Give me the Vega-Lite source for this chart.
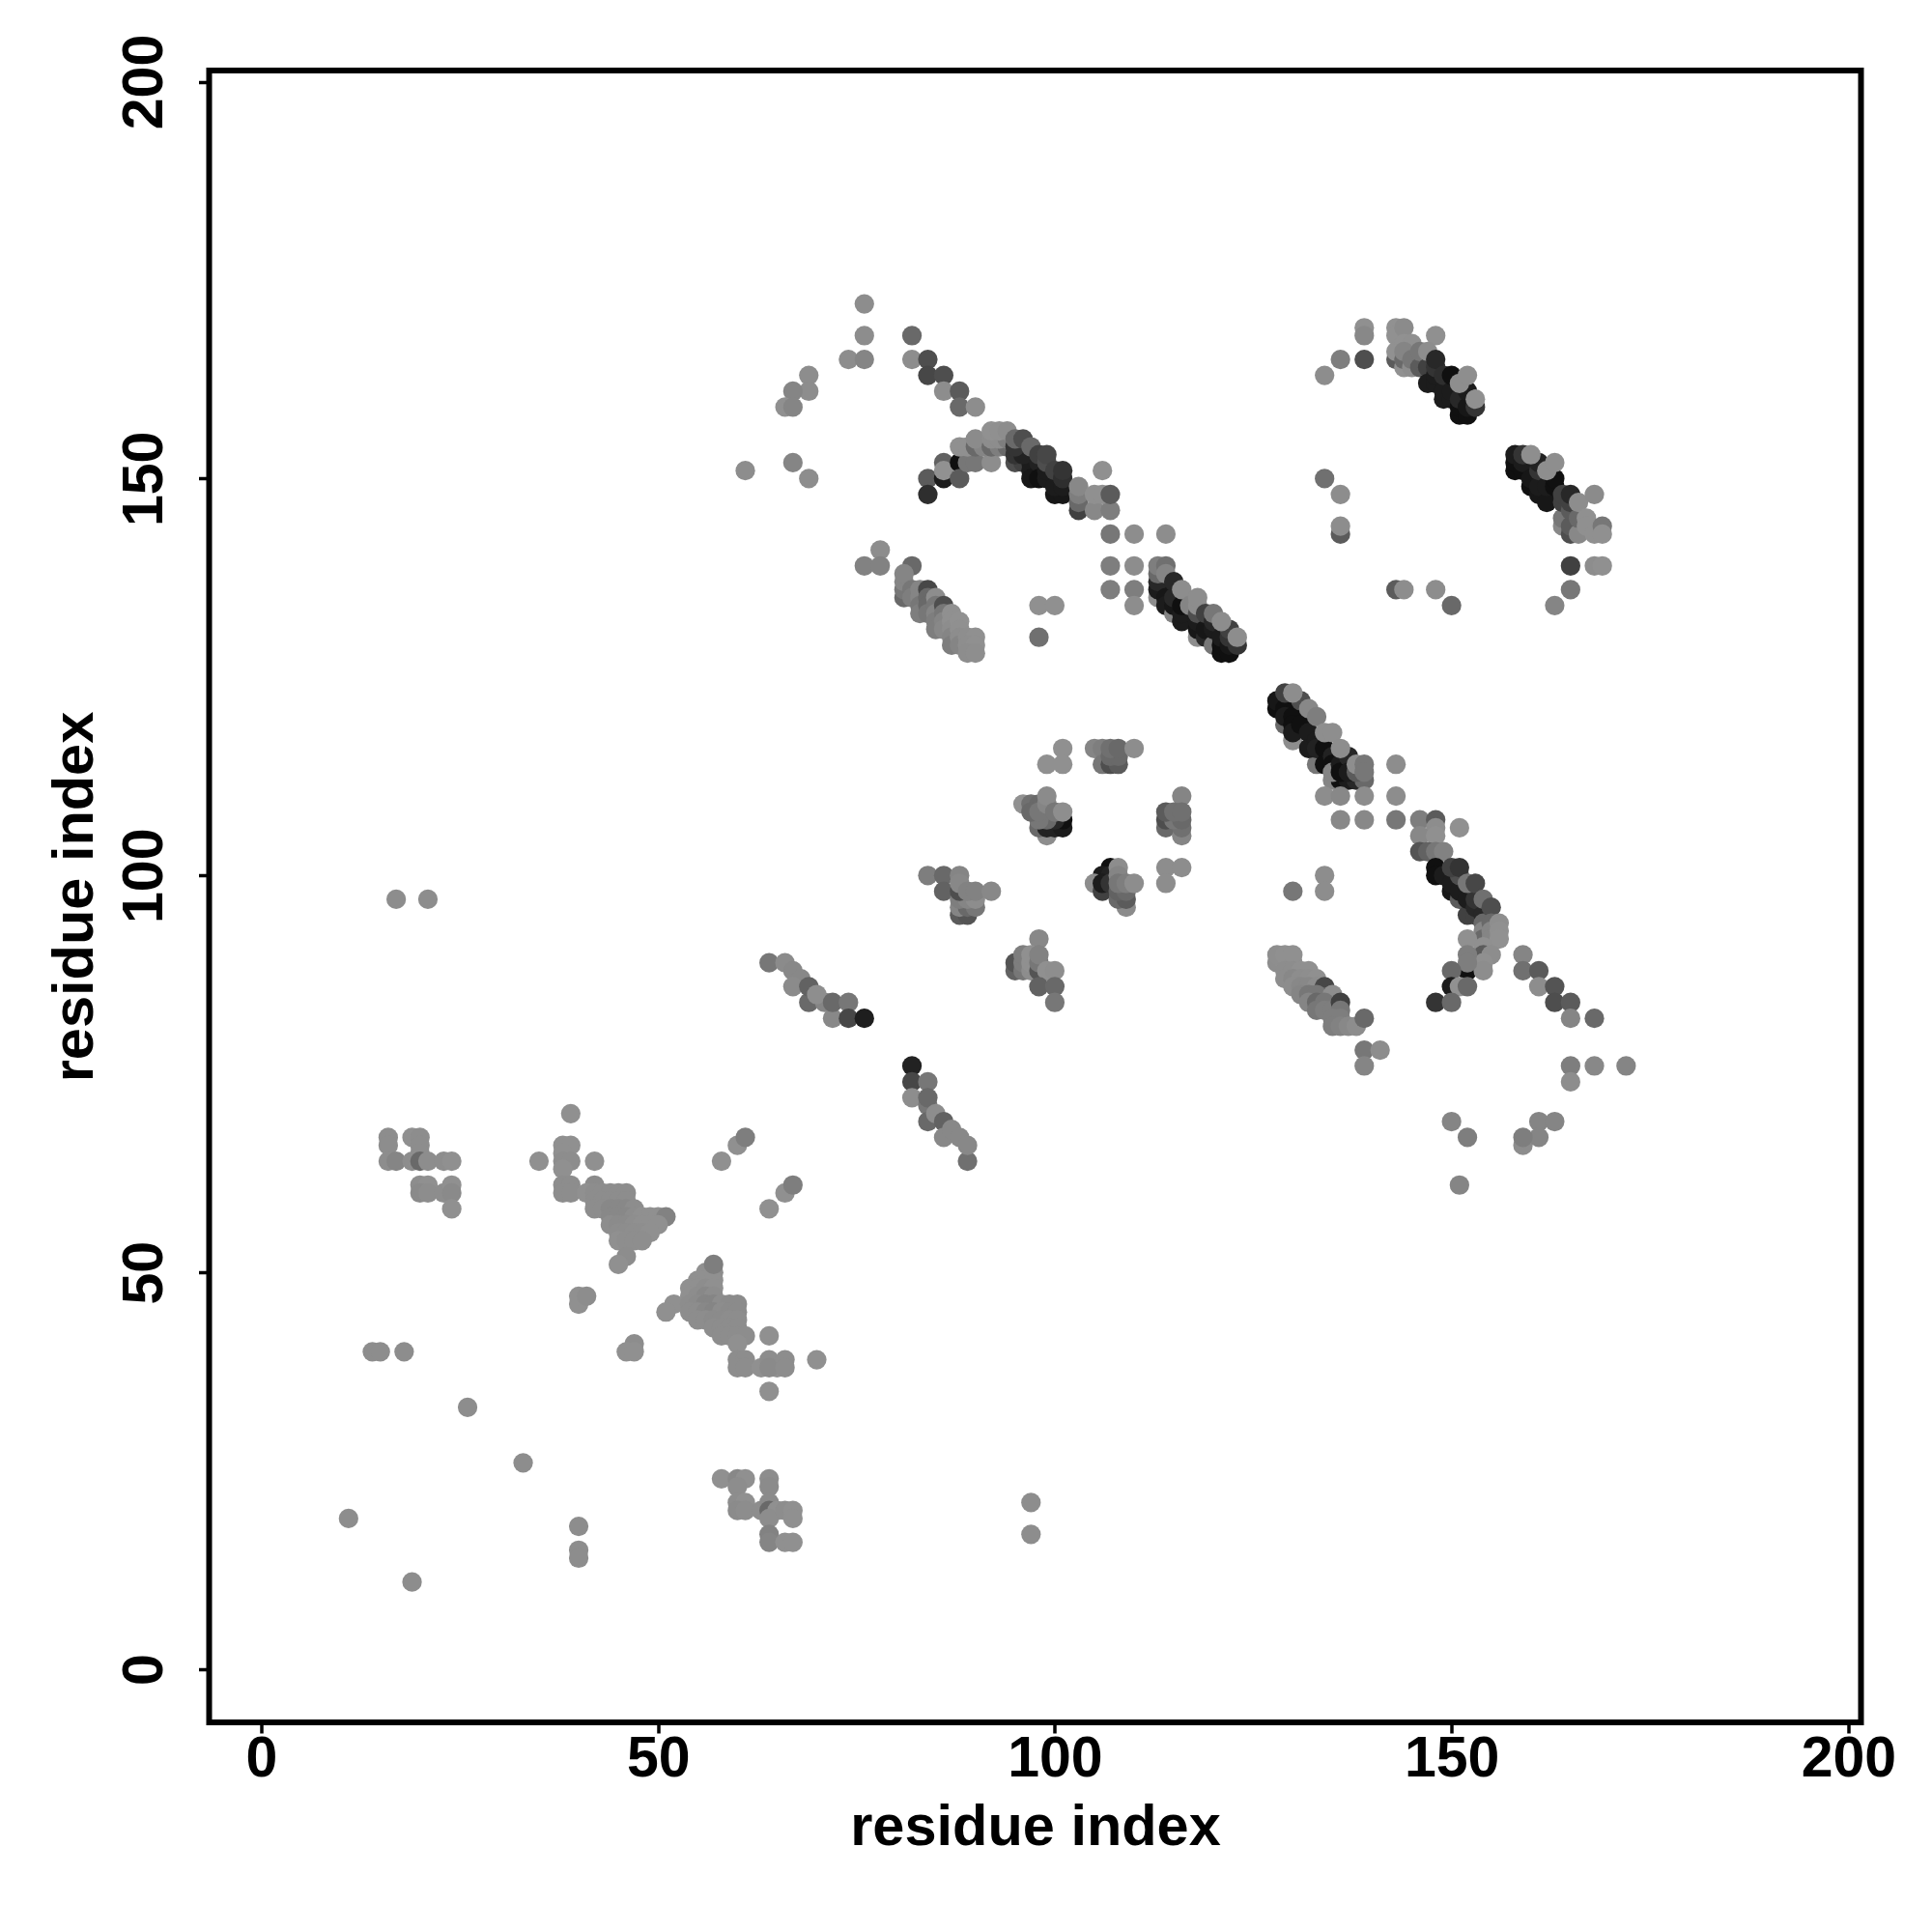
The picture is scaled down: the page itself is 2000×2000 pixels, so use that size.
{"$schema":"https://vega.github.io/schema/vega-lite/v6.json","width":1710,"height":1710,"autosize":{"type":"none"},"padding":{"left":216.5,"top":73,"right":73.5,"bottom":216.5},"background":"white","view":{"stroke":"black","strokeWidth":6,"fill":"white"},"config":{"axis":{"grid":false,"domain":false,"ticks":true,"tickColor":"black","tickWidth":3.5,"tickSize":11,"labelColor":"black","titleColor":"black","labelFont":"Liberation Sans","titleFont":"Liberation Sans","labelFontWeight":"bold","titleFontWeight":"bold","labelFontSize":59,"titleFontSize":59.5,"labelOverlap":false,"labelFlush":false}},"data":{"values":[
{"x":11,"y":19,"s":0.05},{"x":19,"y":11,"s":0.05},{"x":40,"y":18,"s":0.05},{"x":40,"y":15,"s":0.05},{"x":40,"y":14,"s":0.05},{"x":33,"y":26,"s":0.05},{"x":26,"y":33,"s":0.05},{"x":14,"y":40,"s":0.05},{"x":15,"y":40,"s":0.05},{"x":18,"y":40,"s":0.05},{"x":97,"y":21,"s":0.05},{"x":97,"y":17,"s":0.05},{"x":17,"y":97,"s":0.05},{"x":21,"y":97,"s":0.05},
{"x":16,"y":67,"s":0.05},{"x":16,"y":66,"s":0.05},{"x":16,"y":64,"s":0.05},{"x":17,"y":64,"s":0.1},{"x":19,"y":67,"s":0.03},{"x":20,"y":67,"s":0.05},{"x":20,"y":66,"s":0.05},{"x":20,"y":65,"s":0.05},{"x":19,"y":64,"s":0.05},{"x":20,"y":64,"s":0.3},{"x":21,"y":64,"s":0.05},{"x":23,"y":64,"s":0.05},{"x":24,"y":64,"s":0.03},{"x":20,"y":61,"s":0.05},{"x":21,"y":61,"s":0.03},{"x":20,"y":60,"s":0.07},{"x":21,"y":60,"s":0.05},{"x":23,"y":60,"s":0.05},{"x":24,"y":61,"s":0.03},{"x":24,"y":60,"s":0.07},{"x":24,"y":58,"s":0.03},
{"x":39,"y":70,"s":0.03},{"x":38,"y":66,"s":0.03},{"x":39,"y":66,"s":0.03},{"x":38,"y":65,"s":0.03},{"x":38,"y":64,"s":0.05},{"x":39,"y":64,"s":0.05},{"x":38,"y":63,"s":0.03},{"x":35,"y":64,"s":0.03},{"x":42,"y":64,"s":0.03},{"x":38,"y":61,"s":0.05},{"x":39,"y":61,"s":0.05},{"x":38,"y":60,"s":0.05},{"x":39,"y":60,"s":0.05},
{"x":42,"y":61,"s":0.06},{"x":41,"y":60,"s":0.03},{"x":42,"y":60,"s":0.05},{"x":43,"y":60,"s":0.05},{"x":44,"y":60,"s":0.05},{"x":45,"y":60,"s":0.05},{"x":46,"y":60,"s":0.05},{"x":42,"y":59,"s":0.05},{"x":43,"y":59,"s":0.05},{"x":44,"y":59,"s":0.05},{"x":45,"y":59,"s":0.05},{"x":46,"y":59,"s":0.05},{"x":42,"y":58,"s":0.05},{"x":43,"y":58,"s":0.05},{"x":44,"y":58,"s":0.08},{"x":45,"y":58,"s":0.08},{"x":46,"y":58,"s":0.08},{"x":47,"y":58,"s":0.05},{"x":44,"y":57,"s":0.08},{"x":45,"y":57,"s":0.08},{"x":46,"y":57,"s":0.08},{"x":47,"y":57,"s":0.05},{"x":48,"y":57,"s":0.03},{"x":49,"y":57,"s":0.03},{"x":50,"y":57,"s":0.03},{"x":51,"y":57,"s":0.12},{"x":44,"y":56,"s":0.05},{"x":45,"y":56,"s":0.06},{"x":46,"y":56,"s":0.06},{"x":47,"y":56,"s":0.04},{"x":48,"y":56,"s":0.03},{"x":49,"y":56,"s":0.03},{"x":50,"y":56,"s":0.03},{"x":45,"y":55,"s":0.05},{"x":46,"y":55,"s":0.05},{"x":47,"y":55,"s":0.04},{"x":48,"y":55,"s":0.04},{"x":49,"y":55,"s":0.03},{"x":45,"y":54,"s":0.03},{"x":46,"y":54,"s":0.04},{"x":47,"y":54,"s":0.04},{"x":48,"y":54,"s":0.04},{"x":46,"y":52,"s":0.05},{"x":45,"y":51,"s":0.03},
{"x":40,"y":46,"s":0.03},{"x":40,"y":47,"s":0.03},{"x":41,"y":47,"s":0.05},{"x":47,"y":41,"s":0.05},{"x":46,"y":40,"s":0.03},{"x":47,"y":40,"s":0.03},
{"x":58,"y":64,"s":0.03},{"x":60,"y":66,"s":0.03},{"x":61,"y":67,"s":0.15},{"x":64,"y":58,"s":0.03},{"x":66,"y":60,"s":0.03},{"x":67,"y":61,"s":0.15},
{"x":57,"y":50,"s":0.05},{"x":56,"y":50,"s":0.03},{"x":55,"y":49,"s":0.03},{"x":56,"y":49,"s":0.03},{"x":57,"y":49,"s":0.03},{"x":54,"y":48,"s":0.03},{"x":55,"y":48,"s":0.03},{"x":56,"y":48,"s":0.05},{"x":57,"y":48,"s":0.03},{"x":54,"y":47,"s":0.03},{"x":55,"y":47,"s":0.05},{"x":56,"y":47,"s":0.08},{"x":57,"y":47,"s":0.05},{"x":52,"y":46,"s":0.03},{"x":54,"y":46,"s":0.05},{"x":55,"y":46,"s":0.06},{"x":56,"y":46,"s":0.1},{"x":57,"y":46,"s":0.1},{"x":58,"y":46,"s":0.05},{"x":59,"y":46,"s":0.06},{"x":60,"y":46,"s":0.06},{"x":51,"y":45,"s":0.03},{"x":54,"y":45,"s":0.05},{"x":55,"y":45,"s":0.05},{"x":56,"y":45,"s":0.08},{"x":57,"y":45,"s":0.1},{"x":58,"y":45,"s":0.05},{"x":59,"y":45,"s":0.06},{"x":60,"y":45,"s":0.06},{"x":55,"y":44,"s":0.05},{"x":56,"y":44,"s":0.05},{"x":57,"y":44,"s":0.06},{"x":58,"y":44,"s":0.06},{"x":59,"y":44,"s":0.05},{"x":60,"y":44,"s":0.05},{"x":57,"y":43,"s":0.05},{"x":58,"y":43,"s":0.05},{"x":59,"y":43,"s":0.05},{"x":60,"y":43,"s":0.05},{"x":58,"y":42,"s":0.05},{"x":59,"y":42,"s":0.05},{"x":60,"y":42,"s":0.05},{"x":61,"y":42,"s":0.05},{"x":57,"y":51,"s":0.15},{"x":64,"y":42,"s":0.03},{"x":60,"y":41,"s":0.03},{"x":60,"y":39,"s":0.05},{"x":61,"y":39,"s":0.05},{"x":60,"y":38,"s":0.05},{"x":61,"y":38,"s":0.05},{"x":63,"y":38,"s":0.03},{"x":65,"y":38,"s":0.03},{"x":64,"y":39,"s":0.05},{"x":64,"y":38,"s":0.07},{"x":66,"y":39,"s":0.05},{"x":66,"y":38,"s":0.05},{"x":70,"y":39,"s":0.03},{"x":64,"y":35,"s":0.03},
{"x":58,"y":24,"s":0.03},{"x":60,"y":24,"s":0.08},{"x":61,"y":24,"s":0.03},{"x":60,"y":23,"s":0.05},{"x":64,"y":24,"s":0.05},{"x":64,"y":23,"s":0.06},{"x":60,"y":21,"s":0.05},{"x":61,"y":21,"s":0.03},{"x":60,"y":20,"s":0.06},{"x":61,"y":20,"s":0.05},{"x":63,"y":20,"s":0.05},{"x":64,"y":21,"s":0.06},{"x":64,"y":20,"s":0.3},{"x":65,"y":20,"s":0.03},{"x":64,"y":19,"s":0.05},{"x":66,"y":20,"s":0.05},{"x":67,"y":20,"s":0.03},{"x":67,"y":19,"s":0.03},{"x":64,"y":17,"s":0.12},{"x":64,"y":16,"s":0.1},{"x":66,"y":16,"s":0.03},{"x":67,"y":16,"s":0.03},
{"x":76,"y":172,"s":0.05},{"x":76,"y":168,"s":0.05},{"x":74,"y":165,"s":0.05},{"x":76,"y":165,"s":0.1},{"x":82,"y":168,"s":0.3},{"x":82,"y":165,"s":0.05},{"x":84,"y":165,"s":0.5},{"x":84,"y":163,"s":0.55},{"x":86,"y":163,"s":0.5},{"x":86,"y":161,"s":0.05},{"x":88,"y":161,"s":0.4},{"x":88,"y":159,"s":0.3},{"x":90,"y":159,"s":0.05},{"x":69,"y":163,"s":0.05},{"x":69,"y":161,"s":0.05},{"x":67,"y":161,"s":0.1},{"x":66,"y":159,"s":0.03},{"x":67,"y":159,"s":0.1},{"x":61,"y":151,"s":0.05},{"x":67,"y":152,"s":0.1},{"x":69,"y":150,"s":0.05},
{"x":84,"y":150,"s":0.4},{"x":84,"y":148,"s":0.75},{"x":86,"y":150,"s":0.9},{"x":86,"y":152,"s":0.35},{"x":86,"y":151,"s":0.02},{"x":88,"y":152,"s":1},{"x":88,"y":150,"s":0.4},{"x":89,"y":152,"s":0.2},{"x":90,"y":152,"s":0.2},{"x":92,"y":152,"s":0.05},{"x":88,"y":154,"s":0.03},{"x":89,"y":154,"s":0.03},{"x":90,"y":154,"s":0.3},{"x":91,"y":154,"s":0.1},{"x":90,"y":155,"s":0.06},{"x":92,"y":154,"s":0.3},{"x":93,"y":154,"s":0.15},{"x":94,"y":154,"s":0.3},{"x":92,"y":155,"s":0.05},{"x":93,"y":155,"s":0.05},{"x":94,"y":155,"s":0.15},{"x":92,"y":156,"s":0.02},{"x":93,"y":156,"s":0.03},{"x":94,"y":156,"s":0.05},{"x":95,"y":152,"s":0.5},{"x":96,"y":152,"s":0.6},{"x":97,"y":152,"s":0.9},{"x":97,"y":151,"s":0.9},{"x":97,"y":150,"s":0.95},{"x":95,"y":153,"s":0.7},{"x":96,"y":153,"s":0.85},{"x":95,"y":154,"s":0.7},{"x":95,"y":155,"s":0.3},{"x":96,"y":155,"s":0.5},{"x":97,"y":154,"s":0.3},{"x":98,"y":152,"s":0.85},{"x":98,"y":150,"s":1},{"x":98,"y":153,"s":0.6},{"x":99,"y":150,"s":0.9},{"x":99,"y":151,"s":0.9},{"x":99,"y":152,"s":0.5},{"x":99,"y":153,"s":0.55},{"x":100,"y":148,"s":0.95},{"x":101,"y":148,"s":0.95},{"x":100,"y":149,"s":0.9},{"x":101,"y":149,"s":0.9},{"x":100,"y":151,"s":0.6},{"x":101,"y":150,"s":0.75},{"x":101,"y":151,"s":0.7},
{"x":103,"y":146,"s":0.6},{"x":103,"y":147,"s":0.3},{"x":103,"y":148,"s":0.15},{"x":103,"y":149,"s":0.08},{"x":105,"y":146,"s":0.08},{"x":107,"y":146,"s":0.15},{"x":105,"y":148,"s":0.03},{"x":106,"y":148,"s":0.03},{"x":107,"y":148,"s":0.4},{"x":106,"y":151,"s":0.03},{"x":107,"y":143,"s":0.2},{"x":110,"y":143,"s":0.05},{"x":114,"y":143,"s":0.05},{"x":107,"y":139,"s":0.15},{"x":110,"y":139,"s":0.05},{"x":107,"y":136,"s":0.15},{"x":110,"y":136,"s":0.15},{"x":110,"y":134,"s":0.05},
{"x":78,"y":141,"s":0.05},{"x":76,"y":139,"s":0.12},{"x":78,"y":139,"s":0.12},{"x":82,"y":139,"s":0.3},{"x":98,"y":134,"s":0.03},{"x":100,"y":134,"s":0.03},{"x":98,"y":130,"s":0.25},
{"x":81,"y":135,"s":0.3},{"x":81,"y":136,"s":0.2},{"x":81,"y":137,"s":0.1},{"x":81,"y":138,"s":0.1},{"x":82,"y":136,"s":0.2},{"x":82,"y":135,"s":0.15},{"x":83,"y":136,"s":0.1},{"x":83,"y":135,"s":0.1},{"x":83,"y":134,"s":0.2},{"x":83,"y":133,"s":0.15},{"x":84,"y":136,"s":0.55},{"x":84,"y":135,"s":0.3},{"x":84,"y":134,"s":0.3},{"x":84,"y":133,"s":0.2},{"x":85,"y":135,"s":0.05},{"x":85,"y":134,"s":0.2},{"x":85,"y":133,"s":0.1},{"x":85,"y":132,"s":0.15},{"x":85,"y":131,"s":0.15},{"x":86,"y":134,"s":0.5},{"x":86,"y":133,"s":0.2},{"x":86,"y":132,"s":0.1},{"x":86,"y":131,"s":0.08},{"x":87,"y":133,"s":0.03},{"x":87,"y":132,"s":0.03},{"x":87,"y":131,"s":0.05},{"x":87,"y":130,"s":0.1},{"x":87,"y":129,"s":0.15},{"x":88,"y":132,"s":0.02},{"x":88,"y":131,"s":0.03},{"x":88,"y":130,"s":0.05},{"x":88,"y":129,"s":0.1},{"x":89,"y":130,"s":0.04},{"x":90,"y":130,"s":0.03},{"x":89,"y":129,"s":0.04},{"x":90,"y":129,"s":0.03},{"x":89,"y":128,"s":0.05},{"x":90,"y":128,"s":0.04},
{"x":139,"y":169,"s":0.03},{"x":139,"y":168,"s":0.08},{"x":136,"y":165,"s":0.15},{"x":139,"y":165,"s":0.5},{"x":134,"y":163,"s":0.05},{"x":148,"y":168,"s":0.03},{"x":143,"y":169,"s":0.02},{"x":143,"y":168,"s":0.02},{"x":144,"y":169,"s":0.06},{"x":143,"y":165,"s":0.4},{"x":143,"y":166,"s":0.02},{"x":144,"y":167,"s":0.02},{"x":145,"y":167,"s":0.03},{"x":144,"y":164,"s":0.02},{"x":144,"y":165,"s":0.3},{"x":144,"y":166,"s":0.1},{"x":145,"y":164,"s":0.05},{"x":145,"y":165,"s":0.2},{"x":146,"y":164,"s":0.4},{"x":146,"y":166,"s":0.2},{"x":147,"y":164,"s":0.6},{"x":147,"y":162,"s":0.9},{"x":147,"y":166,"s":0.05},{"x":148,"y":162,"s":0.9},{"x":148,"y":163,"s":0.9},{"x":148,"y":164,"s":0.7},{"x":148,"y":165,"s":0.8},{"x":149,"y":160,"s":0.9},{"x":149,"y":161,"s":0.9},{"x":149,"y":163,"s":0.75},{"x":150,"y":160,"s":0.9},{"x":150,"y":161,"s":0.9},{"x":150,"y":163,"s":1},{"x":151,"y":158,"s":1},{"x":151,"y":159,"s":1},{"x":151,"y":160,"s":0.8},{"x":152,"y":158,"s":1},{"x":152,"y":159,"s":0.95},{"x":152,"y":161,"s":0.9},{"x":153,"y":159,"s":0.7},{"x":151,"y":162,"s":0.04},{"x":152,"y":163,"s":0.04},{"x":153,"y":160,"s":0.03},
{"x":158,"y":151,"s":1},{"x":158,"y":152,"s":1},{"x":158,"y":153,"s":0.9},{"x":159,"y":151,"s":1},{"x":159,"y":152,"s":0.9},{"x":159,"y":153,"s":0.7},{"x":160,"y":149,"s":1},{"x":160,"y":150,"s":0.95},{"x":161,"y":148,"s":0.95},{"x":161,"y":149,"s":0.9},{"x":161,"y":151,"s":0.7},{"x":161,"y":152,"s":0.85},{"x":162,"y":147,"s":0.95},{"x":162,"y":149,"s":0.9},{"x":163,"y":149,"s":1},{"x":163,"y":150,"s":1},{"x":160,"y":153,"s":0.04},{"x":162,"y":151,"s":0.04},{"x":163,"y":152,"s":0.04},{"x":164,"y":144,"s":0.08},{"x":164,"y":145,"s":0.2},{"x":164,"y":147,"s":0.6},{"x":164,"y":148,"s":0.6},{"x":165,"y":143,"s":0.5},{"x":165,"y":144,"s":0.4},{"x":165,"y":146,"s":0.4},{"x":165,"y":147,"s":0.6},{"x":165,"y":148,"s":0.8},{"x":166,"y":143,"s":0.08},{"x":166,"y":145,"s":0.3},{"x":166,"y":147,"s":0.05},{"x":167,"y":145,"s":0.03},{"x":167,"y":144,"s":0.03},{"x":168,"y":148,"s":0.06},{"x":168,"y":143,"s":0.03},{"x":169,"y":144,"s":0.2},{"x":169,"y":143,"s":0.03},{"x":165,"y":139,"s":0.6},{"x":168,"y":139,"s":0.05},{"x":169,"y":139,"s":0.03},{"x":165,"y":136,"s":0.2},{"x":163,"y":134,"s":0.1},
{"x":134,"y":150,"s":0.25},{"x":136,"y":148,"s":0.05},{"x":136,"y":143,"s":0.4},{"x":136,"y":144,"s":0.05},{"x":143,"y":136,"s":0.4},{"x":144,"y":136,"s":0.05},{"x":148,"y":136,"s":0.05},{"x":150,"y":134,"s":0.3},
{"x":113,"y":135,"s":0.05},{"x":113,"y":136,"s":0.9},{"x":113,"y":137,"s":0.8},{"x":113,"y":138,"s":0.3},{"x":113,"y":139,"s":0.15},{"x":114,"y":139,"s":0.25},{"x":114,"y":138,"s":0.1},{"x":114,"y":135,"s":0.95},{"x":114,"y":134,"s":0.9},{"x":115,"y":133,"s":0.1},{"x":115,"y":134,"s":0.95},{"x":115,"y":135,"s":0.8},{"x":115,"y":137,"s":0.8},{"x":116,"y":132,"s":0.9},{"x":116,"y":133,"s":0.9},{"x":116,"y":134,"s":1},{"x":116,"y":136,"s":0.05},{"x":117,"y":134,"s":0.1},{"x":118,"y":130,"s":0.05},{"x":118,"y":131,"s":0.95},{"x":118,"y":132,"s":0.9},{"x":118,"y":133,"s":0.5},{"x":118,"y":134,"s":0.05},{"x":118,"y":135,"s":0.05},{"x":119,"y":130,"s":0.8},{"x":119,"y":131,"s":0.95},{"x":119,"y":133,"s":0.6},{"x":120,"y":129,"s":0.2},{"x":120,"y":131,"s":0.9},{"x":120,"y":132,"s":0.8},{"x":120,"y":133,"s":0.2},{"x":121,"y":128,"s":1},{"x":121,"y":129,"s":1},{"x":121,"y":130,"s":0.9},{"x":122,"y":128,"s":1},{"x":122,"y":129,"s":0.95},{"x":122,"y":130,"s":0.7},{"x":122,"y":131,"s":0.6},{"x":121,"y":132,"s":0.05},{"x":123,"y":129,"s":0.7},{"x":123,"y":130,"s":0.05},
{"x":129,"y":119,"s":0.3},{"x":130,"y":117,"s":0.05},{"x":133,"y":114,"s":0.2},{"x":135,"y":112,"s":0.1},{"x":136,"y":112,"s":1},{"x":137,"y":112,"s":0.9},{"x":138,"y":112,"s":0.8},{"x":139,"y":112,"s":0.3},{"x":128,"y":121,"s":1},{"x":128,"y":122,"s":0.95},{"x":129,"y":121,"s":1},{"x":129,"y":120,"s":0.9},{"x":129,"y":123,"s":0.6},{"x":130,"y":120,"s":1},{"x":130,"y":119,"s":1},{"x":130,"y":118,"s":0.9},{"x":131,"y":119,"s":1},{"x":131,"y":122,"s":0.5},{"x":132,"y":118,"s":0.9},{"x":132,"y":116,"s":0.9},{"x":133,"y":117,"s":0.9},{"x":133,"y":116,"s":0.85},{"x":134,"y":116,"s":1},{"x":134,"y":114,"s":1},{"x":135,"y":115,"s":0.85},{"x":135,"y":114,"s":1},{"x":135,"y":113,"s":0.1},{"x":136,"y":114,"s":0.9},{"x":136,"y":113,"s":1},{"x":137,"y":115,"s":0.8},{"x":137,"y":113,"s":0.9},{"x":138,"y":113,"s":0.4},{"x":130,"y":123,"s":0.05},{"x":132,"y":121,"s":0.08},{"x":133,"y":120,"s":0.15},{"x":134,"y":118,"s":0.04},{"x":135,"y":118,"s":0.04},{"x":136,"y":116,"s":0.05},{"x":138,"y":114,"s":0.04},{"x":139,"y":114,"s":0.2},{"x":139,"y":113,"s":0.2},{"x":143,"y":114,"s":0.05},
{"x":134,"y":110,"s":0.05},{"x":136,"y":110,"s":0.08},{"x":139,"y":110,"s":0.05},{"x":143,"y":110,"s":0.05},{"x":136,"y":107,"s":0.08},{"x":139,"y":107,"s":0.08},{"x":143,"y":107,"s":0.2},{"x":134,"y":100,"s":0.05},{"x":134,"y":98,"s":0.05},{"x":130,"y":98,"s":0.2},
{"x":146,"y":107,"s":0.15},{"x":148,"y":107,"s":0.4},{"x":148,"y":106,"s":0.05},{"x":151,"y":106,"s":0.03},{"x":146,"y":105,"s":0.08},{"x":148,"y":105,"s":0.03},{"x":146,"y":103,"s":0.45},{"x":147,"y":103,"s":0.35},{"x":148,"y":103,"s":0.2},{"x":149,"y":103,"s":0.12},
{"x":148,"y":101,"s":1},{"x":148,"y":100,"s":1},{"x":149,"y":100,"s":0.9},{"x":150,"y":98,"s":0.95},{"x":150,"y":99,"s":0.9},{"x":151,"y":97,"s":0.4},{"x":151,"y":98,"s":0.9},{"x":151,"y":100,"s":0.5},{"x":152,"y":95,"s":0.6},{"x":152,"y":97,"s":0.9},{"x":153,"y":95,"s":0.6},{"x":153,"y":96,"s":0.8},{"x":153,"y":97,"s":0.7},{"x":154,"y":95,"s":0.8},{"x":150,"y":101,"s":0.6},{"x":151,"y":101,"s":0.7},{"x":152,"y":99,"s":0.2},{"x":153,"y":99,"s":0.55},{"x":154,"y":97,"s":0.25},{"x":154,"y":94,"s":0.3},{"x":154,"y":93,"s":0.1},{"x":154,"y":92,"s":0.3},{"x":155,"y":96,"s":0.5},{"x":155,"y":94,"s":0.3},{"x":155,"y":93,"s":0.1},{"x":155,"y":92,"s":0.1},{"x":156,"y":94,"s":0.04},{"x":156,"y":93,"s":0.03},{"x":156,"y":92,"s":0.02},
{"x":152,"y":88,"s":1},{"x":152,"y":92,"s":0.03},{"x":154,"y":91,"s":0.03},{"x":154,"y":90,"s":0.4},{"x":155,"y":90,"s":0.05},{"x":154,"y":89,"s":0.03},{"x":154,"y":88,"s":0.05},{"x":152,"y":90,"s":0.15},{"x":152,"y":89,"s":0.15},{"x":150,"y":88,"s":0.3},{"x":150,"y":86,"s":0.9},{"x":151,"y":86,"s":0.02},{"x":152,"y":86,"s":0.3},{"x":148,"y":84,"s":0.7},{"x":150,"y":84,"s":0.3},
{"x":159,"y":90,"s":0.1},{"x":159,"y":88,"s":0.25},{"x":161,"y":88,"s":0.4},{"x":161,"y":86,"s":0.05},{"x":163,"y":86,"s":0.45},{"x":163,"y":84,"s":0.5},{"x":165,"y":84,"s":0.4},{"x":165,"y":82,"s":0.1},{"x":168,"y":82,"s":0.3},
{"x":165,"y":76,"s":0.15},{"x":168,"y":76,"s":0.08},{"x":172,"y":76,"s":0.1},{"x":165,"y":74,"s":0.05},{"x":150,"y":69,"s":0.1},{"x":152,"y":67,"s":0.15},{"x":161,"y":69,"s":0.1},{"x":163,"y":69,"s":0.1},{"x":159,"y":66,"s":0.05},{"x":161,"y":67,"s":0.1},{"x":159,"y":67,"s":0.15},{"x":151,"y":61,"s":0.1},
{"x":101,"y":116,"s":0.03},{"x":99,"y":114,"s":0.03},{"x":101,"y":114,"s":0.03},{"x":105,"y":116,"s":0.1},{"x":106,"y":116,"s":0.15},{"x":106,"y":114,"s":0.2},{"x":107,"y":114,"s":0.5},{"x":108,"y":114,"s":0.4},{"x":107,"y":115,"s":0.3},{"x":108,"y":115,"s":0.3},{"x":107,"y":116,"s":0.25},{"x":108,"y":116,"s":0.3},{"x":110,"y":116,"s":0.05},
{"x":116,"y":110,"s":0.1},{"x":114,"y":106,"s":0.3},{"x":116,"y":105,"s":0.1},{"x":116,"y":106,"s":0.25},{"x":114,"y":107,"s":0.5},{"x":115,"y":107,"s":0.2},{"x":116,"y":107,"s":0.3},{"x":114,"y":108,"s":0.4},{"x":115,"y":108,"s":0.25},{"x":116,"y":108,"s":0.25},{"x":114,"y":101,"s":0.05},{"x":116,"y":101,"s":0.05},{"x":114,"y":99,"s":0.05},
{"x":99,"y":105,"s":0.05},{"x":98,"y":106,"s":0.3},{"x":99,"y":106,"s":0.85},{"x":100,"y":106,"s":0.85},{"x":101,"y":106,"s":0.9},{"x":101,"y":107,"s":1},{"x":100,"y":107,"s":0.8},{"x":99,"y":107,"s":0.3},{"x":98,"y":107,"s":0.2},{"x":96,"y":109,"s":0.02},{"x":97,"y":109,"s":0.25},{"x":98,"y":109,"s":0.3},{"x":97,"y":108,"s":0.3},{"x":98,"y":108,"s":0.2},{"x":99,"y":109,"s":0.1},{"x":99,"y":110,"s":0.06},{"x":100,"y":108,"s":0.2},{"x":101,"y":108,"s":0.04},
{"x":107,"y":101,"s":1},{"x":106,"y":100,"s":0.9},{"x":107,"y":100,"s":0.85},{"x":105,"y":99,"s":0.05},{"x":106,"y":98,"s":0.6},{"x":106,"y":99,"s":0.9},{"x":107,"y":99,"s":0.7},{"x":108,"y":101,"s":0.05},{"x":108,"y":100,"s":0.1},{"x":109,"y":96,"s":0.06},{"x":108,"y":97,"s":0.3},{"x":109,"y":97,"s":0.4},{"x":108,"y":98,"s":0.35},{"x":109,"y":98,"s":0.3},{"x":108,"y":99,"s":0.2},{"x":109,"y":99,"s":0.15},{"x":110,"y":99,"s":0.05},
{"x":84,"y":100,"s":0.15},{"x":86,"y":100,"s":0.3},{"x":88,"y":100,"s":0.1},{"x":86,"y":98,"s":0.35},{"x":88,"y":95,"s":0.4},{"x":89,"y":95,"s":0.45},{"x":88,"y":96,"s":0.1},{"x":89,"y":96,"s":0.3},{"x":90,"y":96,"s":0.2},{"x":88,"y":97,"s":0.15},{"x":89,"y":97,"s":0.1},{"x":90,"y":97,"s":0.05},{"x":88,"y":98,"s":0.5},{"x":88,"y":99,"s":0.08},{"x":89,"y":98,"s":0.12},{"x":90,"y":98,"s":0.12},{"x":92,"y":98,"s":0.08},
{"x":98,"y":92,"s":0.08},{"x":95,"y":88,"s":0.35},{"x":95,"y":89,"s":0.45},{"x":96,"y":88,"s":0.2},{"x":96,"y":89,"s":0.15},{"x":96,"y":90,"s":0.15},{"x":97,"y":88,"s":0.05},{"x":97,"y":89,"s":0.03},{"x":97,"y":90,"s":0.03},{"x":98,"y":88,"s":0.45},{"x":98,"y":89,"s":0.2},{"x":98,"y":90,"s":0.12},{"x":99,"y":88,"s":0.03},{"x":100,"y":88,"s":0.04},{"x":98,"y":86,"s":0.35},{"x":100,"y":86,"s":0.3},{"x":100,"y":84,"s":0.2},
{"x":64,"y":89,"s":0.2},{"x":66,"y":89,"s":0.06},{"x":67,"y":88,"s":0.08},{"x":68,"y":87,"s":0.08},{"x":67,"y":86,"s":0.06},{"x":69,"y":84,"s":0.3},{"x":69,"y":86,"s":0.35},{"x":71,"y":84,"s":0.1},{"x":70,"y":85,"s":0.04},{"x":72,"y":82,"s":0.08},{"x":72,"y":84,"s":0.3},{"x":74,"y":84,"s":0.2},{"x":74,"y":82,"s":0.55},{"x":76,"y":82,"s":0.88},
{"x":82,"y":76,"s":0.85},{"x":82,"y":74,"s":0.55},{"x":84,"y":74,"s":0.2},{"x":82,"y":72,"s":0.05},{"x":84,"y":71,"s":0.2},{"x":84,"y":72,"s":0.3},{"x":84,"y":69,"s":0.3},{"x":85,"y":70,"s":0.05},{"x":86,"y":69,"s":0.35},{"x":86,"y":67,"s":0.08},{"x":87,"y":68,"s":0.08},{"x":88,"y":67,"s":0.08},{"x":89,"y":64,"s":0.25},{"x":89,"y":66,"s":0.08},
{"x":128,"y":89,"s":0.05},{"x":129,"y":89,"s":0.03},{"x":130,"y":89,"s":0.03},{"x":128,"y":90,"s":0.04},{"x":129,"y":90,"s":0.03},{"x":130,"y":90,"s":0.03},{"x":129,"y":88,"s":0.05},{"x":130,"y":88,"s":0.05},{"x":131,"y":88,"s":0.03},{"x":132,"y":88,"s":0.03},{"x":129,"y":87,"s":0.05},{"x":130,"y":87,"s":0.08},{"x":131,"y":87,"s":0.05},{"x":132,"y":87,"s":0.04},{"x":133,"y":87,"s":0.03},{"x":130,"y":86,"s":0.05},{"x":131,"y":86,"s":0.08},{"x":132,"y":86,"s":0.08},{"x":133,"y":86,"s":0.05},{"x":134,"y":86,"s":0.55},{"x":131,"y":85,"s":0.1},{"x":132,"y":85,"s":0.2},{"x":133,"y":85,"s":0.2},{"x":135,"y":85,"s":0.04},{"x":132,"y":84,"s":0.1},{"x":133,"y":84,"s":0.3},{"x":134,"y":84,"s":0.2},{"x":133,"y":83,"s":0.2},{"x":134,"y":83,"s":0.15},{"x":135,"y":83,"s":0.15},{"x":136,"y":84,"s":0.6},{"x":136,"y":83,"s":0.2},{"x":135,"y":82,"s":0.15},{"x":136,"y":82,"s":0.15},{"x":135,"y":81,"s":0.15},{"x":136,"y":81,"s":0.12},{"x":137,"y":81,"s":0.08},{"x":138,"y":81,"s":0.05},{"x":139,"y":82,"s":0.3},{"x":139,"y":78,"s":0.2},{"x":141,"y":78,"s":0.05},{"x":139,"y":76,"s":0.1}
]},"mark":{"type":"circle","size":410,"opacity":1,"clip":false},"encoding":{"x":{"field":"x","type":"quantitative","scale":{"domain":[-6.57,201.6],"nice":false,"zero":false},"axis":{"title":"residue index","values":[0,50,100,150,200],"labelPadding":-3,"titlePadding":12}},"y":{"field":"y","type":"quantitative","scale":{"domain":[-6.69,201.4],"nice":false,"zero":false},"axis":{"title":"residue index","values":[0,50,100,150,200],"labelAngle":270,"labelAlign":"center","labelBaseline":"bottom","labelPadding":26,"titlePadding":13}},"color":{"field":"s","type":"quantitative","legend":null,"scale":{"domain":[0,1],"range":["#949494","#101010"]}}}}
